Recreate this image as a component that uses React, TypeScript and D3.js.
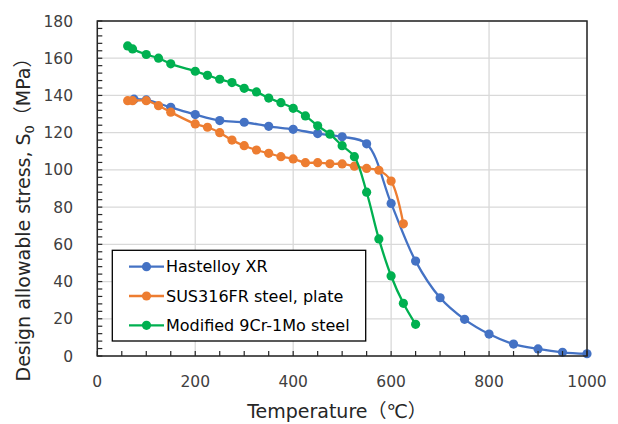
import React from "react";
import * as d3 from "d3";

const hastelloyT = [75, 100, 150, 200, 250, 300, 350, 400, 450, 500, 550, 600, 650, 700, 750, 800, 850, 900, 950, 1000];
const hastelloyS = [138, 137.6, 133.6, 129.7, 126.5, 125.6, 123.4, 121.8, 119.5, 117.8, 114, 82, 51, 31.3, 19.7, 11.8, 6.4, 3.8, 2, 1.2];

const susT = [62, 72, 100, 125, 150, 200, 225, 250, 275, 300, 325, 350, 375, 400, 425, 450, 475, 500, 525, 550, 575, 600, 625];
const susS = [137.2, 137.2, 137.2, 134.5, 131, 124.7, 122.9, 120, 116, 113, 110.7, 108.9, 107.1, 105.9, 103.9, 103.9, 103.3, 103.2, 102, 100.8, 99.8, 94, 71];

const modT = [62, 72, 100, 125, 150, 200, 225, 250, 275, 300, 325, 350, 375, 400, 425, 450, 475, 500, 525, 550, 575, 600, 625, 650];
const modS = [166.6, 165, 162, 160, 157, 153, 150.8, 148.7, 146.9, 143.8, 141.9, 138.6, 136.1, 133.1, 129, 123.7, 119.2, 113, 107.1, 88, 62.9, 43, 28.3, 17];

const seriesNames = ["Hastelloy XR", "SUS316FR steel, plate", "Modified 9Cr-1Mo steel"];
const seriesColors = ["#4472C4", "#ED7D31", "#00B050"];

const xTicks = [0, 200, 400, 600, 800, 1000];
const yTicks = [0, 20, 40, 60, 80, 100, 120, 140, 160, 180];

const W = 618;
const H = 424;

export default function App() {
  const x = d3.scaleLinear().domain([0, 1000]).range([97.3, 587]);
  const y = d3.scaleLinear().domain([0, 180]).range([356, 21]);
  const series = [
    { t: hastelloyT, s: hastelloyS },
    { t: susT, s: susS },
    { t: modT, s: modS },
  ];
  const line = d3
    .line<[number, number]>()
    .x((d) => x(d[0]))
    .y((d) => y(d[1]))
    .curve(d3.curveCatmullRom.alpha(0.5));

  const xMinor = d3.range(0, 1001, 50);
  const yMinor = d3.range(0, 181, 4);
  const font = "'DejaVu Sans', 'Noto Sans CJK JP', sans-serif";
  const [x0, x1] = x.range();
  const [yb, yt] = y.range();

  const legX = 112.3, legY = 250.3, legW = 253.4, legH = 90.7;
  const rowY = [266.7, 296, 325.3];

  return (
    <svg width={W} height={H} style={{ position: "absolute", left: 0, top: 0, background: "#fff" }} fontFamily={font}>
      <rect x={0} y={0} width={W} height={H} fill="#fff" />
      {/* gridlines */}
      {yTicks.map((v) => (
        <line key={"gy" + v} x1={x0} x2={x1} y1={y(v)} y2={y(v)} stroke="#d9d9d9" strokeWidth={1.3} />
      ))}
      {xTicks.map((v) => (
        <line key={"gx" + v} x1={x(v)} x2={x(v)} y1={yb} y2={yt} stroke="#d9d9d9" strokeWidth={1.3} />
      ))}
      {/* series */}
      {series.map((sr, i) => {
        const pts: [number, number][] = sr.t.map((t, k) => [t, sr.s[k]]);
        return (
          <g key={"s" + i}>
            <path d={line(pts) || ""} fill="none" stroke={seriesColors[i]} strokeWidth={2.3} />
            {pts.map((p, k) => (
              <circle key={k} cx={x(p[0])} cy={y(p[1])} r={4.6} fill={seriesColors[i]} />
            ))}
          </g>
        );
      })}
      {/* frame */}
      <rect x={x0} y={yt} width={x1 - x0} height={yb - yt} fill="none" stroke="#262626" strokeWidth={1.5} />
      {/* ticks */}
      {yMinor.map((v) => (
        <line key={"ty" + v} x1={x0} x2={x0 + 5} y1={y(v)} y2={y(v)} stroke="#262626" strokeWidth={1.2} />
      ))}
      {xMinor.map((v) => (
        <line key={"tx" + v} x1={x(v)} x2={x(v)} y1={yb} y2={yb - 5} stroke="#262626" strokeWidth={1.2} />
      ))}
      {/* tick labels */}
      {yTicks.map((v) => (
        <text key={"ly" + v} x={73} y={y(v)} dy="0.36em" textAnchor="end" fontSize={15.5} fill="#404040">
          {v}
        </text>
      ))}
      {xTicks.map((v) => (
        <text key={"lx" + v} x={x(v)} y={387} textAnchor="middle" fontSize={15.5} fill="#404040">
          {v}
        </text>
      ))}
      {/* axis titles */}
      <text x={337} y={418} textAnchor="middle" fontSize={19} fill="#262626">
        Temperature（℃）
      </text>
      <text transform="translate(30,215) rotate(-90)" textAnchor="middle" fontSize={19} fill="#262626">
        Design allowable stress, S
        <tspan fontSize={13} dy="4">0</tspan>
        <tspan dy="-4">（MPa）</tspan>
      </text>
      {/* legend */}
      <rect x={legX} y={legY} width={legW} height={legH} fill="#fff" stroke="#000" strokeWidth={1.3} />
      {seriesNames.map((n, i) => (
        <g key={"lg" + i}>
          <line x1={129} x2={164} y1={rowY[i]} y2={rowY[i]} stroke={seriesColors[i]} strokeWidth={2.3} />
          <circle cx={146.5} cy={rowY[i]} r={4.6} fill={seriesColors[i]} />
          <text x={166} y={rowY[i]} dy="0.36em" fontSize={16} fill="#000">
            {n}
          </text>
        </g>
      ))}
    </svg>
  );
}
